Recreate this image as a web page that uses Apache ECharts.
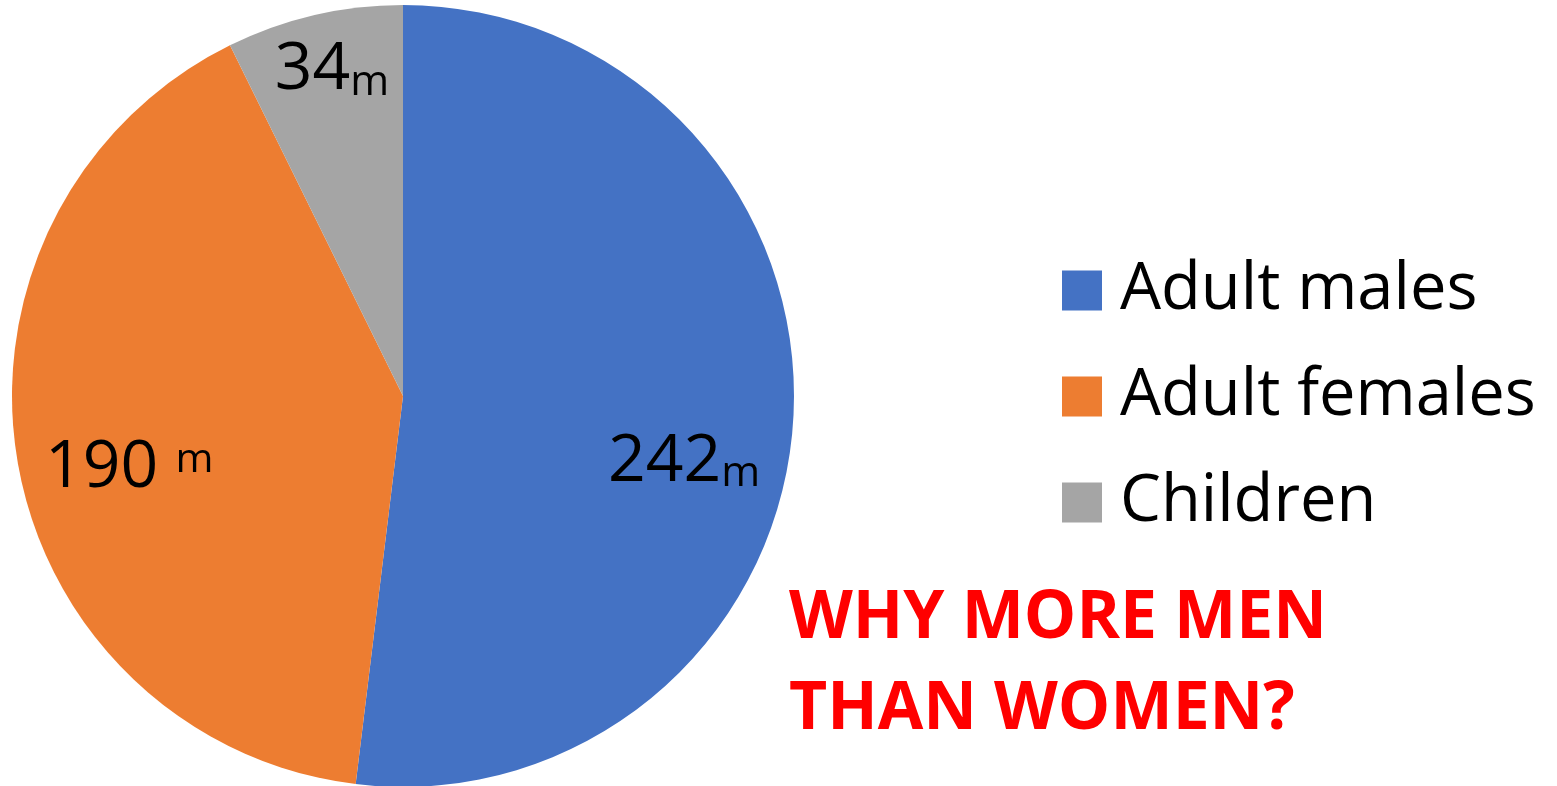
<!DOCTYPE html>
<html><head><meta charset="utf-8">
<script src="https://cdn.jsdelivr.net/npm/echarts@6/dist/echarts.min.js"></script>
<style>html,body{margin:0;padding:0;background:#fff}#c{width:1557px;height:786px}</style>
</head><body><div id="c"></div>
<script>
const categories = ['Adult males', 'Adult females', 'Children'];
const values = [242, 190, 34];
const valueLabels = ['{n|242}{m|m}', '{n|190} {s|m}', '{n|34}{m|m}'];
const colors = ['#4472C4', '#ED7D31', '#A5A5A5'];
const labelShift = [[83, 54], [-78, 39], [-26, -132]];

const chart = echarts.init(document.getElementById('c'));
const FONT = '"Open Sans", "Noto Sans", sans-serif';
chart.setOption({
  animation: false,
  color: colors,
  title: {
    text: 'WHY MORE MEN\nTHAN WOMEN?',
    left: 784, top: 569,
    textStyle: { color: '#FF0000', fontSize: 66, fontWeight: 'bold', fontFamily: FONT, lineHeight: 91 }
  },
  legend: {
    orient: 'vertical',
    left: 1057, top: 253,
    itemWidth: 40, itemHeight: 40, itemGap: 41,
    icon: 'rect',
    data: categories,
    textStyle: { fontSize: 65, fontFamily: FONT, color: '#000', padding: [0, 0, 0, 13] }
  },
  series: [{
    type: 'pie',
    center: [403, 396],
    radius: 391,
    startAngle: 90,
    clockwise: true,
    data: categories.map((c, i) => ({ name: c, value: values[i] })),
    itemStyle: { borderWidth: 0 },
    label: {
      show: true,
      position: 'inside',
      formatter: p => valueLabels[p.dataIndex],
      rich: {
        n: { fontSize: 66, fontFamily: FONT, color: '#000', verticalAlign: 'bottom' },
        m: { fontSize: 42, fontFamily: FONT, color: '#000', verticalAlign: 'bottom' },
        s: { fontSize: 41, fontFamily: FONT, color: '#000', padding: [0, 0, 20, 14], verticalAlign: 'bottom' }
      }
    },
    labelLayout: p => ({ dx: labelShift[p.dataIndex][0], dy: labelShift[p.dataIndex][1] }),
    emphasis: { disabled: true }
  }]
});
</script></body></html>
